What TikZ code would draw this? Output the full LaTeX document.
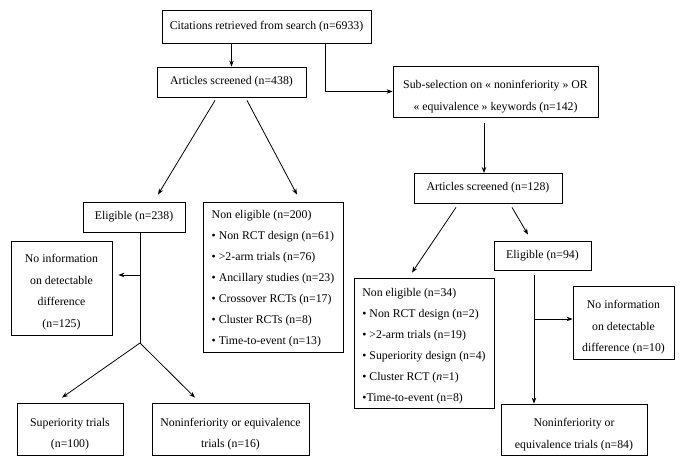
\documentclass[tikz,border=0pt]{standalone}
\usepackage{fontspec}
\setmainfont{Liberation Serif}
\usetikzlibrary{arrows.meta}
\newcommand\dn[1]{\rule{0pt}{#1}}
\begin{document}
\begin{tikzpicture}[x=1pt,y=-1pt,
  box/.style={draw, line width=0.8pt, inner sep=0pt, align=center,
    font=\fontsize{11.8}{21.5}\selectfont},
  lst/.style={box, align=left, font=\fontsize{11.8}{21}\selectfont},
  arr/.style={line width=0.8pt, -{Stealth[length=6pt,width=4.5pt]}},
  ln/.style={line width=0.8pt}]
\useasboundingbox (0,0) rectangle (685,465);
\fill[white] (0,0) rectangle (685,465);

% left branch
\node[box, minimum width=209pt, minimum height=33pt] (cit) at (266.5,26.5) {Citations retrieved from search (n=6933)};
\node[box, minimum width=149pt, minimum height=30pt] (art438) at (231.5,82) {Articles screened (n=438)};
\node[box, minimum width=102pt, minimum height=30pt] (elig238) at (134,217) {Eligible (n=238)};
\node[lst, minimum width=140pt, minimum height=150pt] (ne200) at (273,277) {\dn{12.5pt}Non eligible (n=200)\\
• Non RCT design (n=61)\\
• >2-arm trials (n=76)\\
• Ancillary studies (n=23)\\
• Crossover RCTs (n=17)\\
• Cluster RCTs (n=8)\\
• Time-to-event (n=13)};
\node[box, minimum width=101pt, minimum height=94pt] (ni125) at (61.5,288) {\dn{16.5pt}No information\\on detectable\\difference\\(n=125)};
\node[box, minimum width=106pt, minimum height=52pt] (sup) at (70,429) {\dn{18.5pt}Superiority trials\\(n=100)};
\node[box, minimum width=157pt, minimum height=52pt] (nie16) at (230.5,429) {\dn{18.5pt}Noninferiority or equivalence\\trials (n=16)};

% right branch
\node[box, minimum width=205pt, minimum height=51pt] (sub) at (495.5,91.5) {\dn{18.5pt}Sub-selection on « noninferiority » OR\\« equivalence » keywords (n=142)};
\node[box, minimum width=148pt, minimum height=30pt] (art128) at (488,188) {Articles screened (n=128)};
\node[box, minimum width=97pt, minimum height=29pt] (elig94) at (542.5,255.5) {Eligible (n=94)};
\node[lst, minimum width=140pt, minimum height=130pt] (ne34) at (424,343) {\dn{14.5pt}Non eligible (n=34)\\
• Non RCT design (n=2)\\
• >2-arm trials (n=19)\\
• Superiority design (n=4)\\
• Cluster RCT (\textit{n}=1)\\
•Time-to-event (n=8)};
\node[box, minimum width=101pt, minimum height=73pt] (ni10) at (623.5,322.5) {\dn{18.5pt}No information\\on detectable\\difference (n=10)};
\node[box, minimum width=146pt, minimum height=51pt] (nie84) at (574,429.5) {\dn{18.5pt}Noninferiority or\\equivalence trials (n=84)};

% free points
\coordinate (apex) at (140,343);
\coordinate (br1) at (140,275);
\coordinate (a128) at (484,173);
\coordinate (t94) at (534,275);
\coordinate (b94) at (534,319);

% connectors
\draw[arr] (cit.south -| art438.north) -- (art438.north);
\draw[arr] ([xshift=58.5pt]cit.south) |- (sub.west);
\draw[arr] (sub.south -| a128) ++(0,6) -- (a128);
\draw[arr] ([xshift=-16.5pt,yshift=-3pt]art438.south) -- ([xshift=24pt,yshift=7pt]elig238.north);
\draw[arr] ([xshift=15.5pt,yshift=-3pt]art438.south) -- ([xshift=24pt,yshift=7pt]ne200.north);
\draw[ln] ([xshift=6pt]elig238.south) -- (apex);
\draw[arr, shorten >=6pt] (br1) -- (br1 -| ni125.east);
\draw[arr] (apex) -- ([xshift=-8pt,yshift=5pt]sup.north);
\draw[arr] (apex) -- ([xshift=-35.5pt,yshift=5pt]nie16.north);
\draw[arr] ([xshift=-32pt,yshift=-4pt]art128.south) -- ([xshift=-12pt,yshift=5pt]ne34.north);
\draw[arr] ([xshift=24pt,yshift=-4pt]art128.south) -- ([xshift=-14.5pt,yshift=6pt]elig94.north);
\draw[arr] (t94) -- (t94 |- nie84.north);
\draw[arr] (b94) -- (b94 -| ni10.west);
\end{tikzpicture}
\end{document}
